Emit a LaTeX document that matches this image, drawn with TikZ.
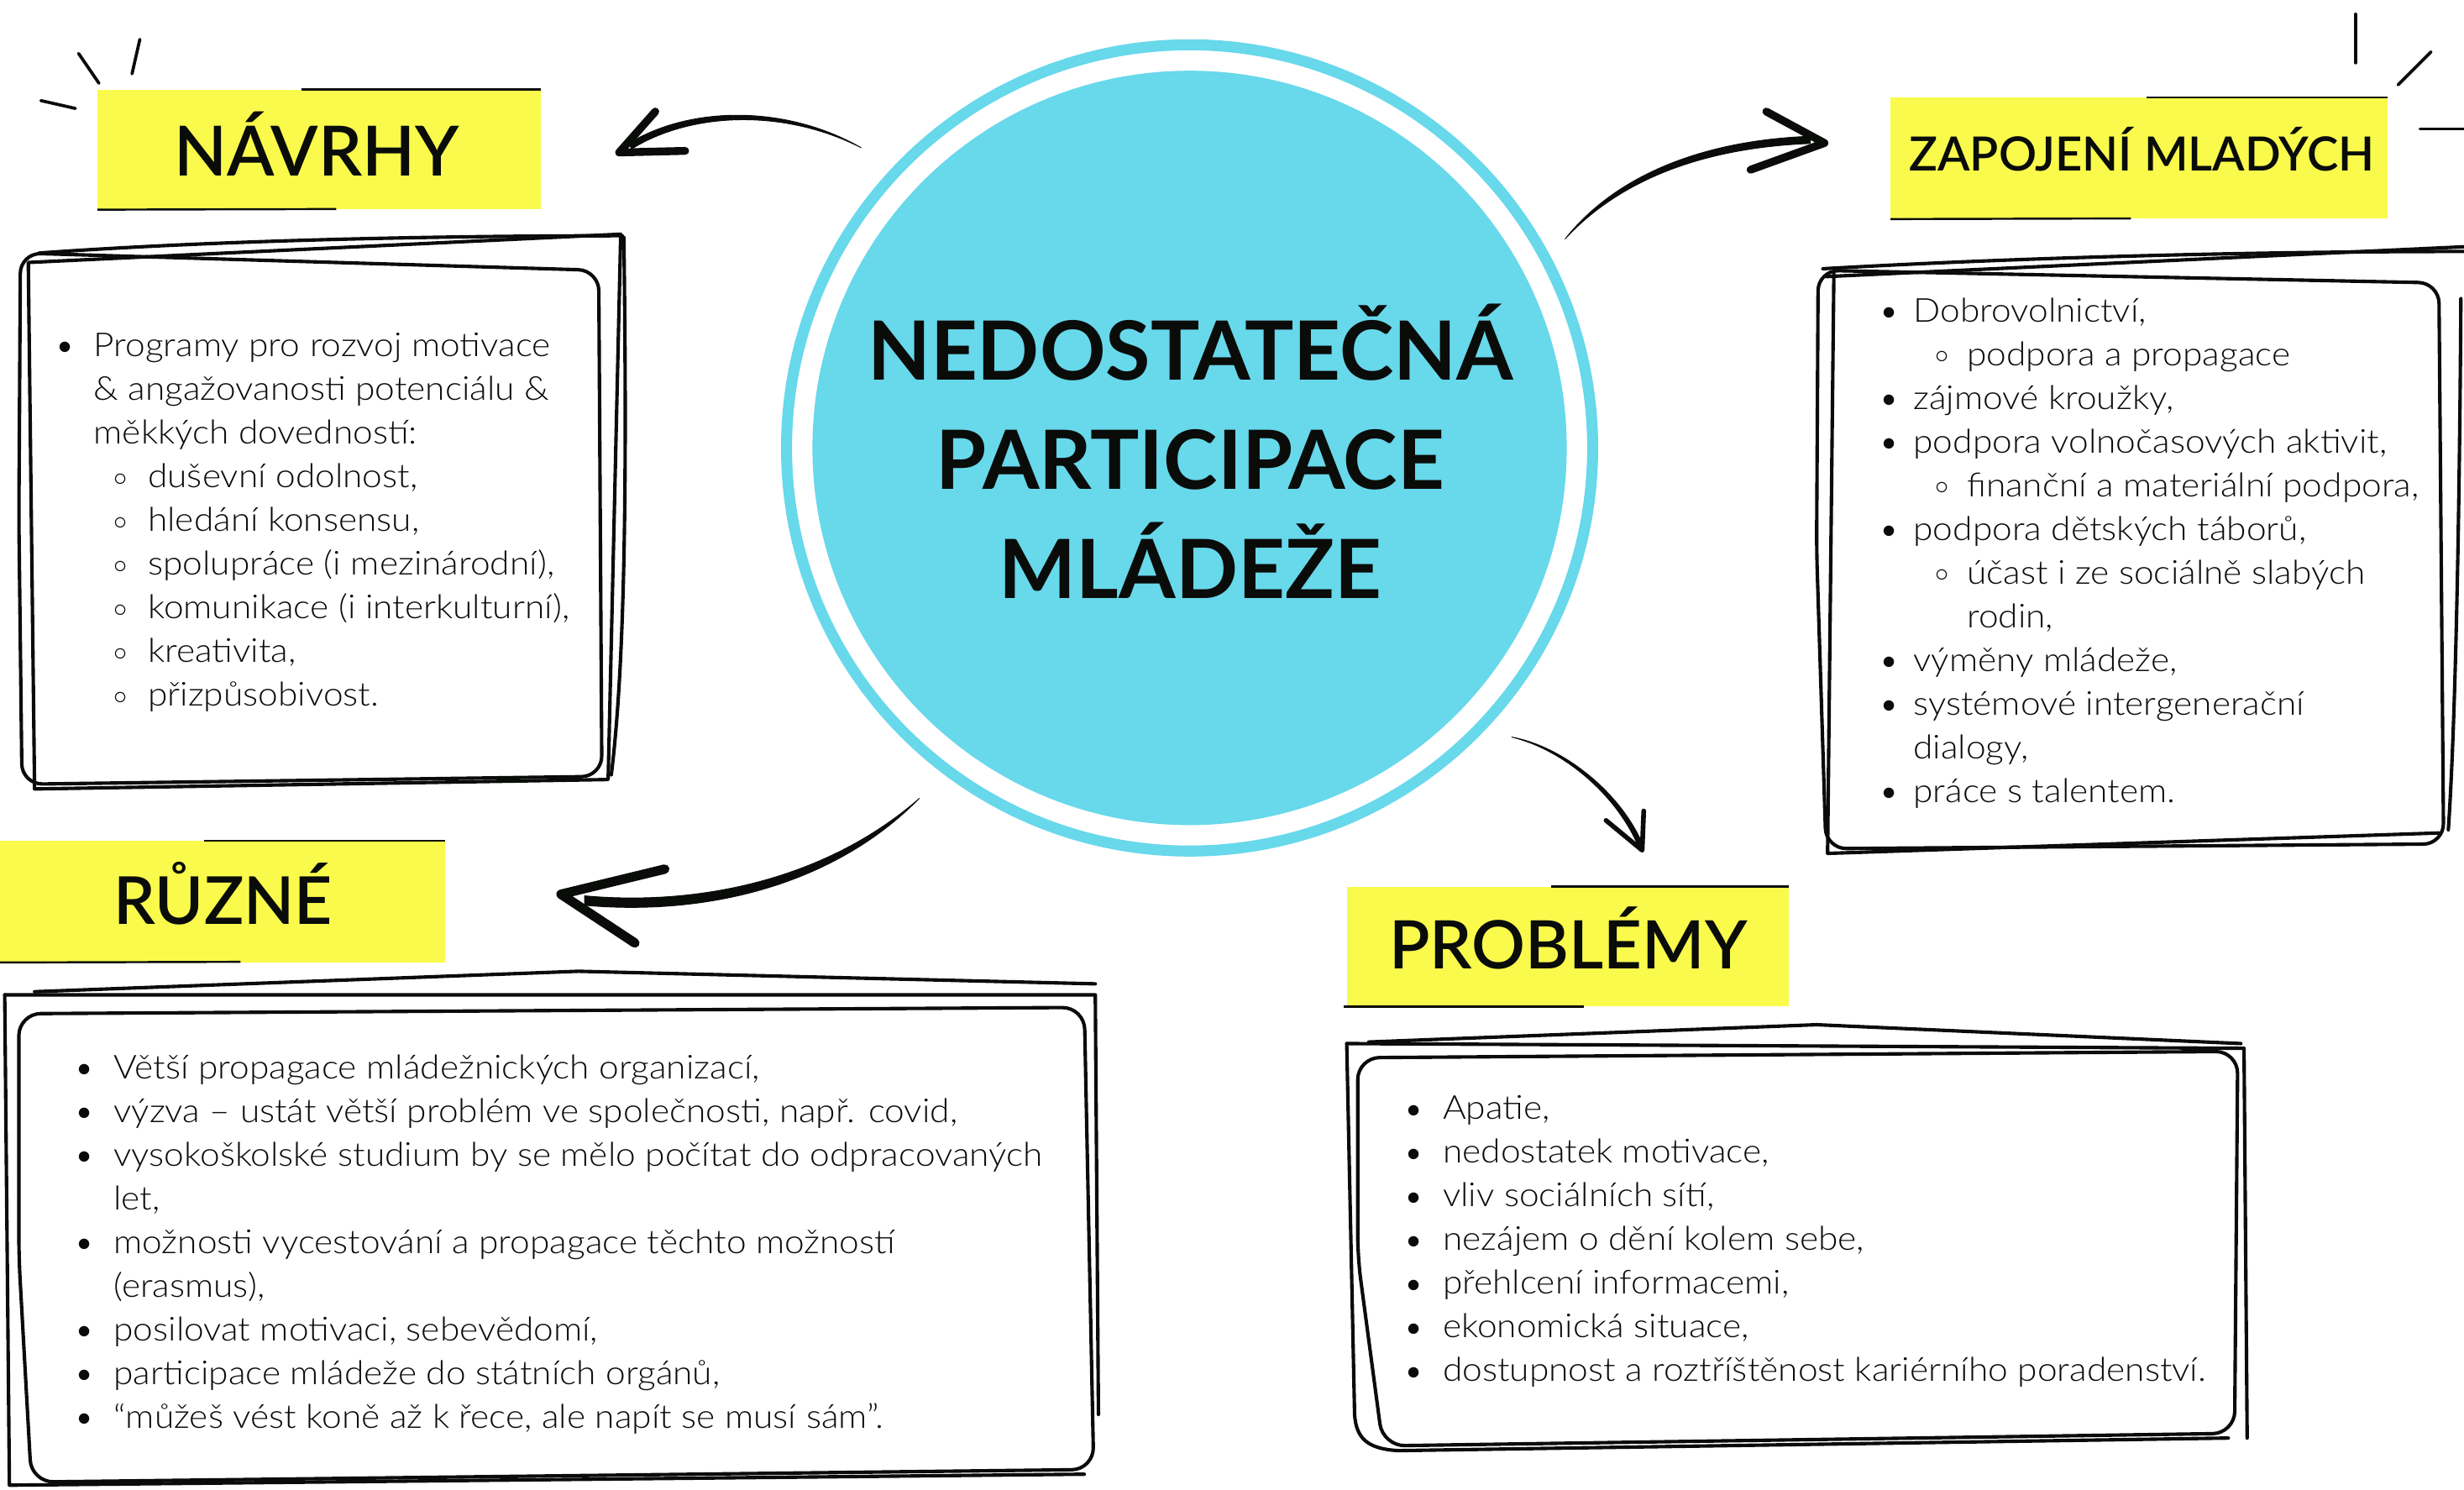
\documentclass[tikz,border=0pt]{standalone}
\usepackage{fontspec}
\setmainfont{Lato}
\newfontfamily\bodyfont{Lato Light}[FakeStretch=1.08]
\newfontfamily\tagfont{Lato Semibold}
\definecolor{ringcyan}{RGB}{104,216,235}
\definecolor{labelyellow}{RGB}{250,250,76}
\definecolor{ink}{RGB}{10,12,10}
\newlength\ga \newlength\gb \newlength\gc
\newcommand\bul{\makebox[0pt]{\raisebox{1.5pt}{\fontsize{16}{16}\selectfont$\bullet$}}}
\newcommand\sbul{\makebox[0pt]{\raisebox{1.5pt}{\fontsize{17}{17}\selectfont$\circ$}}}
\newcommand\LA[1]{\noindent\bul\hspace*{\ga}#1\par}
\newcommand\LB[1]{\noindent\hspace*{\gb}\sbul\hspace*{\dimexpr\gc-\gb\relax}#1\par}
\newcommand\LC[1]{\noindent\hspace*{\ga}#1\par}
\newcommand\LD[1]{\noindent\hspace*{\gc}#1\par}
\newcommand\listblock[5]{\begin{minipage}[t]{#1}\raggedright\bodyfont\fontsize{21}{27.8}\selectfont\setlength\ga{#2}\setlength\gb{#3}\setlength\gc{#4}#5\end{minipage}}
\tikzset{
  sk/.style={draw=ink, line width=2.2pt, line cap=round, line join=round},
  tag/.style={fill=labelyellow, draw=none, inner sep=0pt, anchor=north west},
  accent/.style={draw=ink, line width=1.3pt},
  tagtext/.style={anchor=base, inner sep=0pt, text=ink},
  listnode/.style={anchor=base west, inner sep=0pt, text=ink},
  barb/.style={draw=ink, line cap=round, line join=round},
  brush/.style={fill=ink, draw=ink, line width=0.5pt, line join=round},
  spark/.style={draw=ink, line width=2pt, line cap=round}
}
\begin{document}
\begin{tikzpicture}[x=1pt,y=-1pt]
\useasboundingbox (0,0) rectangle (1568,948);
\fill[white] (0,0) rectangle (1568,948);

% ---------- central circle ----------
\node[circle, fill=ringcyan, draw=none, minimum size=480pt, inner sep=0pt] (core) at (757,285) {};
\draw[draw=ringcyan, line width=7pt] (core.center) circle (256.5pt);
\node[anchor=base, inner sep=0pt, text=ink] (title) at (757.5,242)
  {\begin{minipage}[t]{560pt}\centering\fontsize{52}{69.5}\selectfont\bfseries NEDOSTATEČNÁ\\PARTICIPACE\\MLÁDEŽE\end{minipage}};

% ---------- labels ----------
\node[tag, minimum width=282pt, minimum height=76pt] (navrhyTag) at (62,57) {};
\draw[accent] (192,57) -- (navrhyTag.north east);
\draw[accent] (navrhyTag.south west) -- (214,133);
\node[tagtext, font=\tagfont\fontsize{44}{44}\selectfont] (navrhyLbl) at (201.5,112) {NÁVRHY};

\node[tag, minimum width=316pt, minimum height=77pt] (zapTag) at (1203,62) {};
\draw[accent] (1366,62) -- (zapTag.north east);
\draw[accent] (zapTag.south west) -- (1356,139);
\node[tagtext, font=\tagfont\fontsize{30}{30}\selectfont] (zapLbl) at (1363,109) {ZAPOJENÍ MLADÝCH};

\node[tag, minimum width=283pt, minimum height=77pt] (ruzTag) at (0,535) {};
\draw[accent] (130,535) -- (ruzTag.north east);
\draw[accent] (ruzTag.south west) -- (153,612);
\node[tagtext, font=\tagfont\fontsize{42}{42}\selectfont] (ruzLbl) at (142,588) {RŮZNÉ};

\node[tag, minimum width=281pt, minimum height=76pt] (probTag) at (857,564) {};
\draw[accent] (987,564) -- (probTag.north east);
\draw[accent] (855,640.5) -- (1008,640.5);
\node[tagtext, font=\tagfont\fontsize{42.5}{42.5}\selectfont] (probLbl) at (998,616.5) {PROBLÉMY};

% ---------- sparkles ----------
\draw[spark] (50,34) -- (63,53);
\draw[spark] (89,25) -- (84,47);
\draw[spark] (26,64) -- (48,69);
\draw[spark] (1499,9) -- (1499,40);
\draw[spark] (1547,33) -- (1526,54);
\draw[spark] (1540,82) -- (1568,82);

% ---------- sketch boxes ----------
% NAVRHY box
\draw[sk] (18,167) -- (395,149) -- (387,496) -- (22,502) -- cycle;
\draw[sk, rounded corners=13pt] (12,330) -- (13,161) -- (381,172) -- (383,494) -- (14,499) -- cycle;
\draw[sk] (25,161) .. controls (150,152) and (300,150) .. (396,150);
\draw[sk] (397,151) .. controls (399,300) and (398,420) .. (389,493);
% ZAPOJENI box
\draw[sk] (1162,176) -- (1568,157);
\draw[sk] (1160,171) .. controls (1300,163) and (1450,160) .. (1568,160);
\draw[sk, rounded corners=13pt] (1156,350) -- (1157,172) -- (1552,180) -- (1555,537) -- (1162,540) -- cycle;
\draw[sk] (1167,174) -- (1163,543) -- (1552,530);
\draw[sk] (1566,190) .. controls (1565,350) and (1562,470) .. (1558,528);
% RUZNE box
\draw[sk] (3,633) -- (697,633) -- (699,900);
\draw[sk] (3,633) -- (6,945) -- (690,938);
\draw[sk, rounded corners=14pt] (12,800) -- (12,645) -- (690,641) -- (696,935) -- (20,943) -- cycle;
\draw[sk] (22,631) -- (368,618) -- (697,626);
% PROBLEMY box
\draw[sk] (857,664) -- (1428,667) -- (1430,915);
\draw[sk] (871,663) -- (1156,652) -- (1426,664);
\draw[sk, rounded corners=14pt] (864,800) -- (864,673) -- (1424,669) -- (1422,912) -- (880,920) -- cycle;
\draw[sk] (857,664) -- (862,900) .. controls (863,915) and (870,922) .. (890,923) -- (1418,915);

% ---------- list texts ----------
\node[listnode] (navrhyList) at (41.5,227) {\listblock{400pt}{18pt}{35pt}{52.5pt}{%
\LA{Programy pro rozvoj motivace}
\LC{\& angažovanosti potenciálu \&}
\LC{měkkých dovedností:}
\LB{duševní odolnost,}
\LB{hledání konsensu,}
\LB{spolupráce (i mezinárodní),}
\LB{komunikace (i interkulturní),}
\LB{kreativita,}
\LB{přizpůsobivost.}}};

\node[listnode] (zapList) at (1202,205) {\listblock{400pt}{15.5pt}{33.5pt}{49.5pt}{%
\LA{Dobrovolnictví,}
\LB{podpora a propagace}
\LA{zájmové kroužky,}
\LA{podpora volnočasových aktivit,}
\LB{finanční a materiální podpora,}
\LA{podpora dětských táborů,}
\LB{účast i ze sociálně slabých}
\LD{rodin,}
\LA{výměny mládeže,}
\LA{systémové intergenerační}
\LC{dialogy,}
\LA{práce s talentem.}}};

\node[listnode] (ruzList) at (53.4,686.4) {\listblock{700pt}{18.8pt}{35pt}{52pt}{%
\LA{Větší propagace mládežnických organizací,}
\LA{výzva – ustát větší problém ve společnosti, např. covid,}
\LA{vysokoškolské studium by se mělo počítat do odpracovaných}
\LC{let,}
\LA{možnosti vycestování a propagace těchto možností}
\LC{(erasmus),}
\LA{posilovat motivaci, sebevědomí,}
\LA{participace mládeže do státních orgánů,}
\LA{“můžeš vést koně až k řece, ale napít se musí sám”.}}};

\node[listnode] (probList) at (899.3,712.3) {\listblock{600pt}{18.7pt}{35pt}{52pt}{%
\LA{Apatie,}
\LA{nedostatek motivace,}
\LA{vliv sociálních sítí,}
\LA{nezájem o dění kolem sebe,}
\LA{přehlcení informacemi,}
\LA{ekonomická situace,}
\LA{dostupnost a roztříštěnost kariérního poradenství.}}};

% ---------- arrows ----------
% to NAVRHY
\coordinate (a1t) at (548,94);
\coordinate (a1h) at (394,97);
\fill[brush] (a1t) .. controls (500,66.5) and (439,67.3) .. (400,91.3) -- (402,94.7) .. controls (441,70.7) and (500,69.5) .. (a1t) -- cycle;
\draw[barb, line width=5pt] (417,71) -- (a1h) -- (436,96);
% to ZAPOJENI
\coordinate (a2t) at (996,152);
\coordinate (a2h) at (1161,91);
\fill[brush] (a2t) .. controls (1024,116.5) and (1075,89.7) .. (1152,86.7) -- (1152,91.3) .. controls (1075,94.3) and (1026,119.5) .. (a2t) -- cycle;
\draw[barb, line width=5pt] (1124,71) -- (a2h) -- (1114,108);
% to PROBLEMY
\coordinate (a3t) at (962,469);
\coordinate (a3h) at (1045,541);
\fill[brush] (a3t) .. controls (995,475) and (1031.4,504.4) .. (1045.4,537.4) -- (1042.6,538.6) .. controls (1028.6,505.6) and (995,477) .. (a3t) -- cycle;
\draw[barb, line width=3pt] (1046,516) -- (a3h) -- (1022,522);
% to RUZNE
\coordinate (a4t) at (585,508);
\coordinate (a4h) at (357,569);
\fill[brush] (a4t) .. controls (529,557) and (450,577) .. (372,570) -- (372,576) .. controls (450,583) and (531,563) .. (a4t) -- cycle;
\draw[barb, line width=6pt] (423,553) -- (a4h) -- (404,600);
\end{tikzpicture}
\end{document}
